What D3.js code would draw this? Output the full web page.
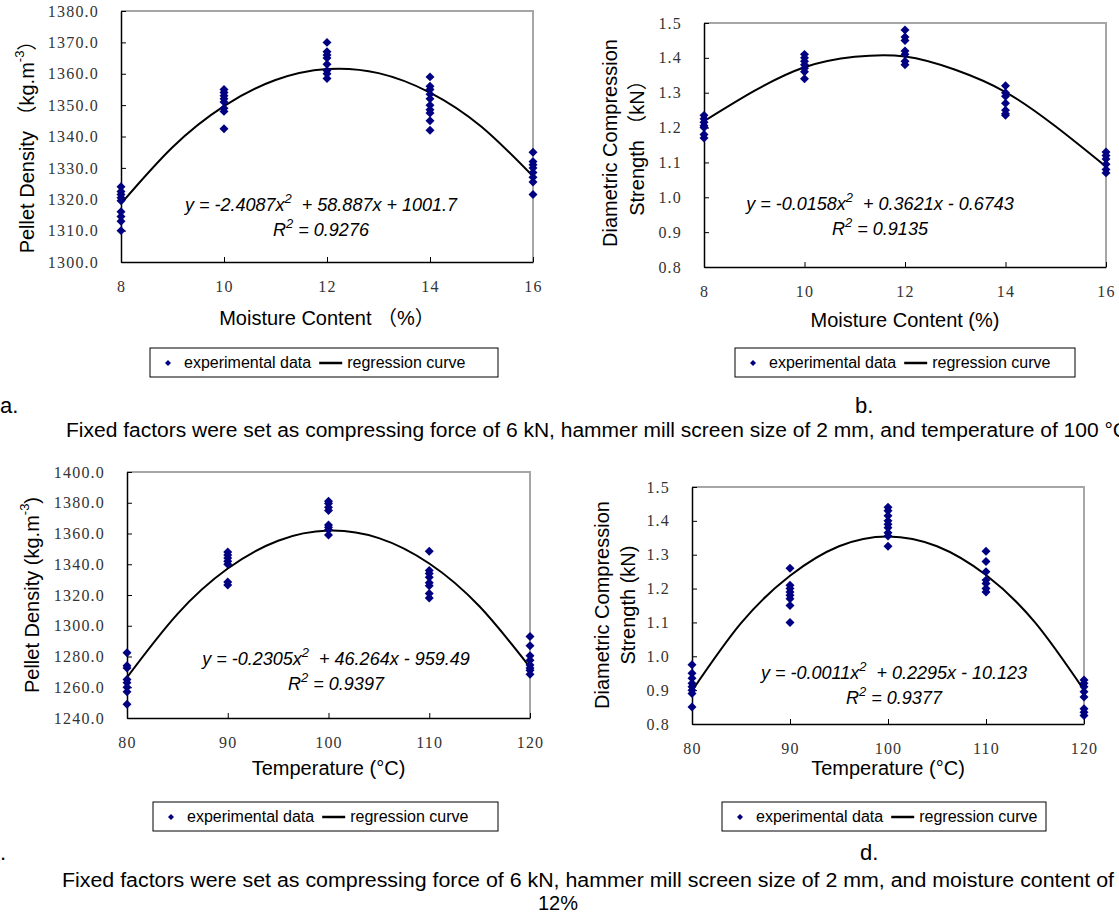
<!DOCTYPE html>
<html>
<head>
    <meta charset="UTF-8">
    <title></title>
    <script src="https://cdn.jsdelivr.net/npm/d3@7"></script>
    <style>
        body{
            padding: 0;
            margin: 0;
            background: #fff;
        }
        .axis path{
            fill: none;
            stroke: #000;
            stroke-width: 1.5px;
        }
        .axis line{
            stroke: #000;
            stroke-width: 1px;
        }
        .axis text{
            font-family: "Liberation Serif", serif;
            font-size: 16px;
            fill: #333;
            letter-spacing: 1.2px;
        }
        .sans{
            font-family: "Liberation Sans", Arial, "Noto Sans CJK SC", sans-serif;
        }
    </style>
</head>
<body>
<script>

    // x levels of the experiments
    var moistureLevels = [8, 10, 12, 14, 16];
    var tempLevels = [80, 90, 100, 110, 120];

    // experimental points, one array per x level
    var densityMoist = [
        [1324, 1322.5, 1321.5, 1320.5, 1319.5, 1316, 1314.5, 1313, 1310],
        [1355, 1354, 1353, 1352, 1351, 1349, 1348, 1342.5],
        [1370, 1367, 1366, 1365, 1363, 1361, 1360, 1358.5],
        [1359, 1356, 1355, 1353.5, 1352, 1350, 1348.5, 1347.5, 1345, 1342],
        [1335, 1332, 1331, 1330, 1328.5, 1327, 1325.5, 1321.5]
    ];
    var strengthMoist = [
        [1.235, 1.225, 1.215, 1.205, 1.2, 1.18, 1.17],
        [1.41, 1.40, 1.39, 1.38, 1.37, 1.36, 1.34],
        [1.48, 1.46, 1.45, 1.42, 1.41, 1.39, 1.38],
        [1.32, 1.30, 1.29, 1.27, 1.25, 1.24, 1.235],
        [1.13, 1.12, 1.11, 1.095, 1.08, 1.07]
    ];
    var densityTemp = [
        [1282.5, 1274, 1272.5, 1265, 1263, 1260, 1257, 1249],
        [1348, 1346, 1344, 1342, 1340, 1328.5, 1326.5],
        [1381, 1379.5, 1377, 1375, 1365.5, 1364, 1362.5, 1359],
        [1348.5, 1336, 1334, 1331.5, 1328, 1326, 1321, 1318],
        [1293, 1287, 1280.5, 1277.5, 1274.5, 1272.5, 1271, 1268.5]
    ];
    var strengthTemp = [
        [0.975, 0.95, 0.935, 0.92, 0.91, 0.9, 0.89, 0.85],
        [1.26, 1.21, 1.20, 1.19, 1.18, 1.17, 1.15, 1.10],
        [1.44, 1.43, 1.415, 1.40, 1.39, 1.38, 1.365, 1.355, 1.325],
        [1.31, 1.28, 1.25, 1.225, 1.215, 1.20, 1.19],
        [0.93, 0.92, 0.91, 0.895, 0.88, 0.845, 0.835, 0.825]
    ];

    // regression curves
    var curveMoistX = [8, 9, 10, 11, 12, 13, 14, 15, 16];
    var curveDensityMoist = [1318.6, 1336.6, 1349.7, 1358.0, 1361.5, 1360.2, 1354.0, 1343.1, 1327.3];
    var curveStrengthMoist = [1.218, 1.305, 1.373, 1.403, 1.404, 1.366, 1.302, 1.203, 1.088];
    var curveTempX = [80, 85, 90, 95, 100, 105, 110, 115, 120];
    var curveDensityTemp = [1266.4, 1307.6, 1337.2, 1355.3, 1361.9, 1357.0, 1340.5, 1312.5, 1273.0];
    var curveStrengthTemp = [0.898, 1.098, 1.238, 1.325, 1.354, 1.325, 1.24, 1.10, 0.90];

    // axis ticks
    var densityMoistTicks = [1300, 1310, 1320, 1330, 1340, 1350, 1360, 1370, 1380];
    var densityTempTicks = [1240, 1260, 1280, 1300, 1320, 1340, 1360, 1380, 1400];
    var strengthTicks = [0.8, 0.9, 1.0, 1.1, 1.2, 1.3, 1.4, 1.5];

    // equation text
    var equations = [
        ["y = -2.4087x", "2", "  + 58.887x + 1001.7"],
        ["y = -0.0158x", "2", "  + 0.3621x - 0.6743"],
        ["y = -0.2305x", "2", "  + 46.264x - 959.49"],
        ["y = -0.0011x", "2", "  + 0.2295x - 10.123"]
    ];
    var rSquared = ["0.9276", "0.9135", "0.9397", "0.9377"];

    var legendNames = ["experimental data", "regression curve"];

    var W = 1119, H = 917;

    var svg = d3.select("body")
        .append("svg")
        .attr("width", W)
        .attr("height", H);

    var panels = [
        {x0: 121, x1: 533, y0: 11, y1: 262, levels: moistureLevels, data: densityMoist,
         yDomain: [1300, 1380], yTicks: densityMoistTicks,
         cx: curveMoistX, cy: curveDensityMoist, eq: 0, eqX: 321, eqY: 211,
         yLab: [["Pellet Density （kg.m", "-3", "）"]], yLabX: [27], yLabY: 142,
         xLab: "Moisture Content （%）", xLabY: 325,
         legend: {x: 150, y: 348, w: 348}},
        {x0: 704, x1: 1106, y0: 23, y1: 267, levels: moistureLevels, data: strengthMoist,
         yDomain: [0.8, 1.5], yTicks: strengthTicks,
         cx: curveMoistX, cy: curveStrengthMoist, eq: 1, eqX: 880, eqY: 210,
         yLab: [["Diametric Compression"], ["Strength （kN）"]], yLabX: [610, 637], yLabY: 143,
         xLab: "Moisture Content (%)", xLabY: 327,
         legend: {x: 735, y: 348, w: 340}},
        {x0: 127, x1: 530, y0: 472, y1: 718, levels: tempLevels, data: densityTemp,
         yDomain: [1240, 1400], yTicks: densityTempTicks,
         cx: curveTempX, cy: curveDensityTemp, eq: 2, eqX: 336, eqY: 665,
         yLab: [["Pellet Density (kg.m", "-3", ")"]], yLabX: [32], yLabY: 595,
         xLab: "Temperature (°C)", xLabY: 775,
         legend: {x: 153, y: 802, w: 345}},
        {x0: 692, x1: 1084, y0: 487, y1: 724, levels: tempLevels, data: strengthTemp,
         yDomain: [0.8, 1.5], yTicks: strengthTicks,
         cx: curveTempX, cy: curveStrengthTemp, eq: 3, eqX: 894, eqY: 679,
         yLab: [["Diametric Compression"], ["Strength (kN)"]], yLabX: [602, 628], yLabY: 605,
         xLab: "Temperature (°C)", xLabY: 775,
         legend: {x: 722, y: 802, w: 324}}
    ];

    var diamond = d3.symbol().type(d3.symbolSquare).size(40);

    panels.forEach(function(p){
        var x = d3.scaleLinear()
            .domain(d3.extent(p.levels))
            .range([p.x0, p.x1]);
        var y = d3.scaleLinear()
            .domain(p.yDomain)
            .range([p.y1, p.y0]);

        var g = svg.append("g");

        // grey frame on top and right
        g.append("path")
            .attr("d", "M" + p.x0 + "," + p.y0 + "H" + p.x1 + "V" + p.y1)
            .attr("fill", "none")
            .attr("stroke", "#a6a6a6")
            .attr("stroke-width", 2);

        g.append("g")
            .attr("class", "axis")
            .attr("transform", "translate(0," + p.y1 + ")")
            .call(d3.axisBottom(x)
                .tickValues(p.levels)
                .tickSizeInner(-5)
                .tickSizeOuter(0)
                .tickPadding(19)
                .tickFormat(d3.format("d")));

        g.append("g")
            .attr("class", "axis")
            .attr("transform", "translate(" + p.x0 + ",0)")
            .call(d3.axisLeft(y)
                .tickValues(p.yTicks)
                .tickSizeInner(-5)
                .tickSizeOuter(0)
                .tickPadding(22)
                .tickFormat(function(d){ return d.toFixed(1); }));

        // regression curve
        var line = d3.line()
            .x(function(d, i){ return x(p.cx[i]); })
            .y(function(d){ return y(d); })
            .curve(d3.curveNatural);
        g.append("path")
            .datum(p.cy)
            .attr("d", line)
            .attr("fill", "none")
            .attr("stroke", "#000")
            .attr("stroke-width", 2);

        // experimental points
        var pts = [];
        p.data.forEach(function(arr, i){
            arr.forEach(function(v){ pts.push([p.levels[i], v]); });
        });
        g.selectAll(".pt")
            .data(pts)
            .enter()
            .append("path")
            .attr("class", "pt")
            .attr("d", diamond)
            .attr("fill", "#000080")
            .attr("transform", function(d){
                return "translate(" + x(d[0]) + "," + y(d[1]) + ") rotate(45)";
            });

        // equation
        var eq = equations[p.eq];
        var t = g.append("text")
            .attr("class", "sans")
            .attr("x", p.eqX)
            .attr("y", p.eqY)
            .attr("text-anchor", "middle")
            .style("font-size", "18px")
            .style("font-style", "italic")
            .attr("xml:space", "preserve");
        t.append("tspan").text(eq[0]);
        t.append("tspan").attr("dy", -8).style("font-size", "13px").text(eq[1]);
        t.append("tspan").attr("dy", 8).text(eq[2]);

        var r = g.append("text")
            .attr("class", "sans")
            .attr("x", p.eqX)
            .attr("y", p.eqY + 25)
            .attr("text-anchor", "middle")
            .style("font-size", "18px")
            .style("font-style", "italic")
            .attr("xml:space", "preserve");
        r.append("tspan").text("R");
        r.append("tspan").attr("dy", -8).style("font-size", "13px").text("2");
        r.append("tspan").attr("dy", 8).text(" = " + rSquared[p.eq]);

        // y axis title
        p.yLab.forEach(function(parts, k){
            var yt = g.append("text")
                .attr("class", "sans")
                .attr("text-anchor", "middle")
                .attr("dominant-baseline", "central")
                .attr("transform", "translate(" + p.yLabX[k] + "," + p.yLabY + ") rotate(-90)")
                .style("font-size", "20px");
            yt.append("tspan").text(parts[0]);
            if (parts.length > 1) {
                yt.append("tspan").attr("dy", -8).style("font-size", "13px").text(parts[1]);
                yt.append("tspan").attr("dy", 8).text(parts[2]);
            }
        });

        // x axis title
        g.append("text")
            .attr("class", "sans")
            .attr("x", (p.x0 + p.x1) / 2)
            .attr("y", p.xLabY)
            .attr("text-anchor", "middle")
            .style("font-size", "20px")
            .text(p.xLab);

        // legend
        var L = p.legend;
        var lg = g.append("g").attr("transform", "translate(" + L.x + "," + L.y + ")");
        lg.append("rect")
            .attr("width", L.w)
            .attr("height", 29)
            .attr("fill", "#fff")
            .attr("stroke", "#000")
            .attr("stroke-width", 1);
        lg.append("path")
            .attr("d", d3.symbol().type(d3.symbolSquare).size(18))
            .attr("fill", "#000080")
            .attr("transform", "translate(18,15) rotate(45)");
        var t1 = lg.append("text")
            .attr("class", "sans")
            .attr("x", 34)
            .attr("y", 20)
            .style("font-size", "16px")
            .text(legendNames[0]);
        var end1 = 34 + t1.node().getComputedTextLength();
        lg.append("line")
            .attr("x1", end1 + 8)
            .attr("x2", end1 + 31)
            .attr("y1", 15)
            .attr("y2", 15)
            .attr("stroke", "#000")
            .attr("stroke-width", 2.5);
        lg.append("text")
            .attr("class", "sans")
            .attr("x", end1 + 36)
            .attr("y", 20)
            .style("font-size", "16px")
            .text(legendNames[1]);
    });

    // panel letters and captions
    var notes = [
        {t: "a.", x: 0, y: 413},
        {t: "b.", x: 855, y: 413},
        {t: ".", x: 0, y: 860},
        {t: "d.", x: 860, y: 860}
    ];
    notes.forEach(function(n){
        svg.append("text")
            .attr("class", "sans")
            .attr("x", n.x)
            .attr("y", n.y)
            .style("font-size", "22px")
            .text(n.t);
    });

    svg.append("text")
        .attr("class", "sans")
        .attr("x", 66)
        .attr("y", 437)
        .attr("textLength", 1062)
        .attr("lengthAdjust", "spacingAndGlyphs")
        .style("font-size", "20px")
        .text("Fixed factors were set as compressing force of 6 kN, hammer mill screen size of 2 mm, and temperature of 100 °C");

    svg.append("text")
        .attr("class", "sans")
        .attr("x", 62)
        .attr("y", 887)
        .attr("textLength", 1052)
        .attr("lengthAdjust", "spacingAndGlyphs")
        .style("font-size", "20px")
        .text("Fixed factors were set as compressing force of 6 kN, hammer mill screen size of 2 mm, and moisture content of");

    svg.append("text")
        .attr("class", "sans")
        .attr("x", 558)
        .attr("y", 910)
        .attr("text-anchor", "middle")
        .style("font-size", "20px")
        .text("12%");

</script>
</body>
</html>
